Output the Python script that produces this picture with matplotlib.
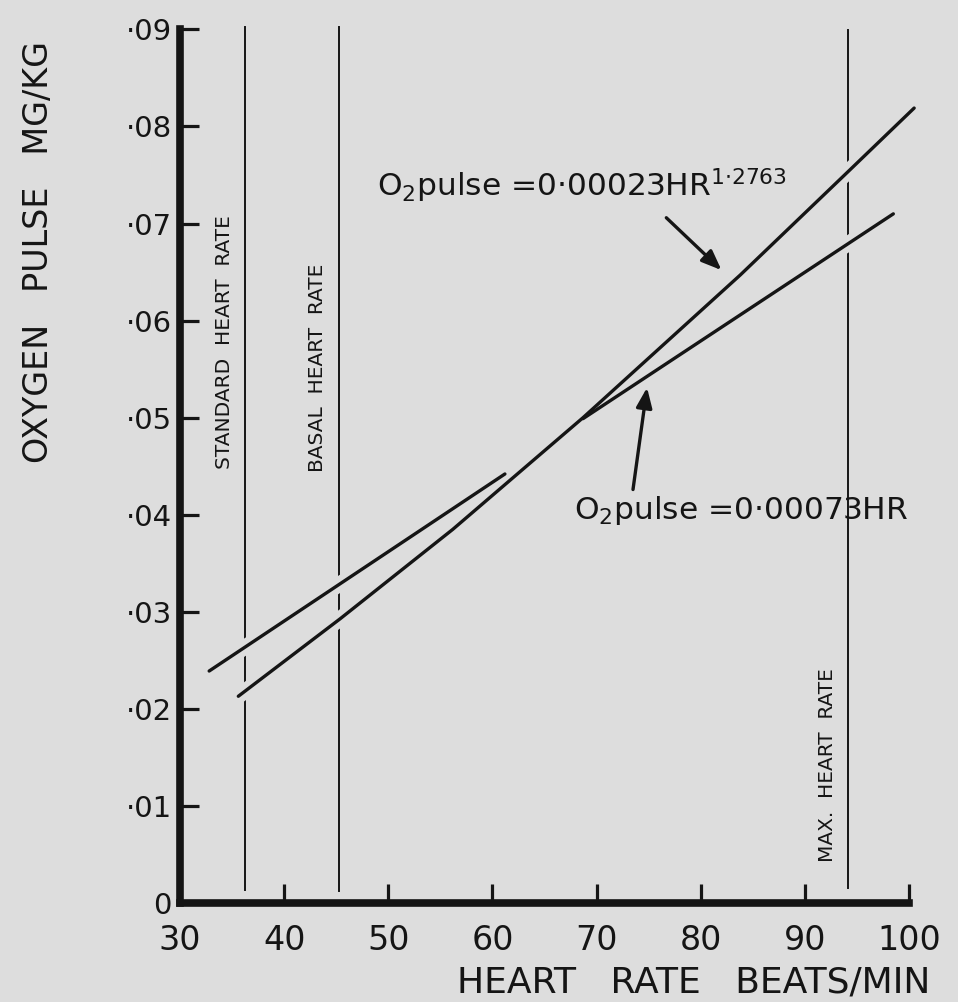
import matplotlib
matplotlib.use('Agg')
import matplotlib.pyplot as plt

plt.rcParams['font.family'] = ['DejaVu Sans']
plt.rcParams['mathtext.fontset'] = 'dejavusans'

BG = '#dddddd'
INK = '#151515'

# curves (heart rate, oxygen pulse)
power_hr = [35.6, 45.4, 56.2, 68.7, 83.8, 94.3, 100.5]
power_o2 = [0.0213, 0.0293, 0.0385, 0.0500, 0.0647, 0.0755, 0.0819]

linear_lo_hr = [32.8, 61.2]
linear_lo_o2 = [0.0239, 0.0442]
linear_hi_hr = [68.7, 98.5]
linear_hi_o2 = [0.0499, 0.0710]

# reference heart rates
ref_names = ['STANDARD  HEART  RATE', 'BASAL  HEART  RATE', 'MAX.  HEART  RATE']
ref_hr = [36.2, 45.3, 94.15]
ref_bottom = [0.0013, 0.0012, 0.0015]
ref_top = [0.0903, 0.0902, 0.0899]
ref_label_hr = [35.15, 44.1, 93.05]
ref_label_o2 = [0.0447, 0.0444, 0.0042]

x_ticks = [30, 40, 50, 60, 70, 80, 90, 100]
y_ticks = [0, 0.01, 0.02, 0.03, 0.04, 0.05, 0.06, 0.07, 0.08, 0.09]
y_labels = ['0', '·01', '·02', '·03', '·04', '·05', '·06', '·07', '·08', '·09']

eq_power = r'O$_2$pulse =0·00023HR$^{1{\cdot}2763}$'
eq_linear = r'O$_2$pulse =0·00073HR'


fig = plt.figure(figsize=(9.58, 10.02), dpi=100)
fig.patch.set_facecolor(BG)
ax = fig.add_axes([0.1879, 0.0988, 0.7696, 0.8912])
ax.set_facecolor(BG)
ax.set_xlim(30, 100.8)
ax.set_ylim(0, 0.092)

for sp in ['top', 'right']:
    ax.spines[sp].set_visible(False)
for sp in ['left', 'bottom']:
    ax.spines[sp].set_linewidth(5.5)
    ax.spines[sp].set_color(INK)
    ax.spines[sp].set_capstyle('projecting')
ax.spines['left'].set_bounds(0, 0.09)
ax.spines['bottom'].set_bounds(30, 100)

ax.set_xticks(x_ticks)
ax.set_xticklabels([str(v) for v in x_ticks])
ax.set_yticks(y_ticks)
ax.set_yticklabels(y_labels)
ax.tick_params(axis='x', direction='in', length=14, width=2.3, color=INK,
               labelsize=24, pad=15, labelcolor=INK)
ax.tick_params(axis='y', direction='in', length=14, width=2.3, color=INK,
               labelsize=21, pad=6, labelcolor=INK)

# vertical reference lines
for x, y0, y1 in zip(ref_hr, ref_bottom, ref_top):
    ax.plot([x, x], [y0, y1], color=INK, lw=1.4, zorder=1)
for name, x, y in zip(ref_names, ref_label_hr, ref_label_o2):
    ax.text(x, y, name, rotation=90, ha='right', va='bottom',
            fontsize=14.5, color=INK)

# curves: background halos first so crossing lines look broken
curves = [(power_hr, power_o2), (linear_lo_hr, linear_lo_o2),
          (linear_hi_hr, linear_hi_o2)]
for xs, ys in curves:
    ax.plot(xs, ys, color=BG, lw=11, solid_capstyle='butt', zorder=2)
for xs, ys in curves:
    ax.plot(xs, ys, color=INK, lw=2.4, solid_capstyle='round', zorder=3)

# equations and arrows
ax.text(48.9, 0.0728, eq_power, fontsize=22.5, color=INK, ha='left', va='baseline')
ax.text(67.8, 0.0396, eq_linear, fontsize=22.5, color=INK, ha='left', va='baseline')
arrow = dict(arrowstyle='-|>,head_length=0.5,head_width=0.2', lw=2.4,
             color=INK, mutation_scale=24, shrinkA=0, shrinkB=0)
ax.annotate('', xy=(82.0, 0.0652), xytext=(76.7, 0.0706), arrowprops=arrow, zorder=4)
ax.annotate('', xy=(74.85, 0.0531), xytext=(73.5, 0.0426), arrowprops=arrow, zorder=4)

fig.text(0.0397, 0.7485, 'OXYGEN   PULSE   MG/KG', rotation=90, ha='center',
         va='center', fontsize=24, color=INK)
fig.text(0.477, 0.009, 'HEART   RATE   BEATS/MIN', ha='left', va='baseline',
         fontsize=26, color=INK)

fig.savefig('out.png', dpi=100, facecolor=BG)
